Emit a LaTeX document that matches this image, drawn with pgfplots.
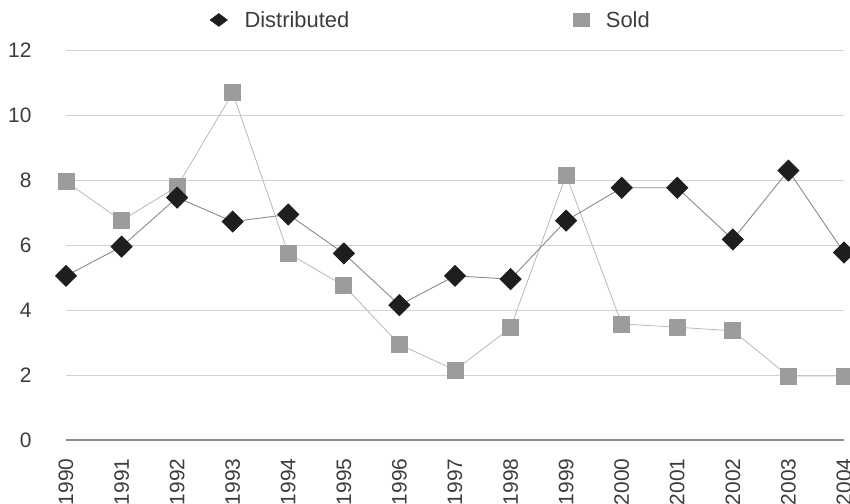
\documentclass[border=0pt]{standalone}
\usepackage{pgfplots}
\pgfplotsset{compat=1.18}
\usepackage{fontspec}
\setmainfont{Liberation Sans}

\definecolor{distcol}{HTML}{1E1E1E}
\definecolor{soldcol}{HTML}{9C9C9C}
\definecolor{distline}{HTML}{8A8A8A}
\definecolor{soldline}{HTML}{B8B8B8}
\definecolor{gridcol}{HTML}{D2D2D2}
\definecolor{basecol}{HTML}{8E8E8E}
\definecolor{textcol}{HTML}{3C3C3C}

% year index (0 = 1990) and value
\pgfplotstableread{
x  y
0  5.05
1  5.95
2  7.46
3  6.72
4  6.94
5  5.74
6  4.15
7  5.05
8  4.95
9  6.75
10 7.76
11 7.76
12 6.17
13 8.29
14 5.77
}\distributed

\pgfplotstableread{
x  y
0  7.95
1  6.75
2  7.80
3  10.68
4  5.74
5  4.75
6  2.94
7  2.15
8  3.45
9  8.15
10 3.57
11 3.47
12 3.36
13 1.97
14 1.97
}\sold

\begin{document}
\begin{tikzpicture}
\path[use as bounding box] (-66bp,-64bp) rectangle (784bp,440bp);
\begin{axis}[
  at={(0,0)}, anchor=south west,
  scale only axis, width=778bp, height=390bp,
  xmin=0, xmax=14, ymin=0, ymax=12,
  clip=false,
  axis line style={draw=none},
  tick style={draw=none}, major tick length=0pt,
  /pgf/number format/assume math mode=true,
  xtick={0,...,14},
  xticklabels={1990,1991,1992,1993,1994,1995,1996,1997,1998,1999,2000,2001,2002,2003,2004},
  ytick={2,4,6,8,10,12},
  extra y ticks={0},
  extra y tick style={grid style={basecol, line width=1.1bp}},
  ymajorgrids,
  grid style={gridcol, line width=0.8bp},
  tick label style={font=\fontsize{21}{25}\selectfont, text=textcol},
  xticklabel style={rotate=90, anchor=east, xshift=-15bp},
  yticklabel style={xshift=-31bp},
  legend columns=2,
  legend style={draw=none, fill=none, at={(axis description cs:0.181,1.077)}, anchor=west,
    font=\fontsize{22}{26}\selectfont, text=textcol,
    /tikz/every odd column/.append style={column sep=15bp},
    /tikz/every even column/.append style={column sep=222bp}},
]
\addlegendimage{only marks, mark=diamond*, mark size=6.5bp, mark options={xscale=1.8, fill=distcol, draw=distcol}}
\addlegendentry{Distributed}
\addlegendimage{only marks, mark=square*, mark size=6.5bp, mark options={xscale=1.2, fill=soldcol, draw=soldcol}}
\addlegendentry{Sold}

\addplot[forget plot, soldline, line width=0.8bp, mark=square*, mark size=8bp,
  mark options={fill=soldcol, draw=soldcol}] table[x=x, y=y] {\sold};
\addplot[forget plot, distline, line width=0.9bp, mark=square*, mark size=7.4bp,
  mark options={rotate=45, fill=distcol, draw=distcol}] table[x=x, y=y] {\distributed};
\end{axis}
\end{tikzpicture}
\end{document}
